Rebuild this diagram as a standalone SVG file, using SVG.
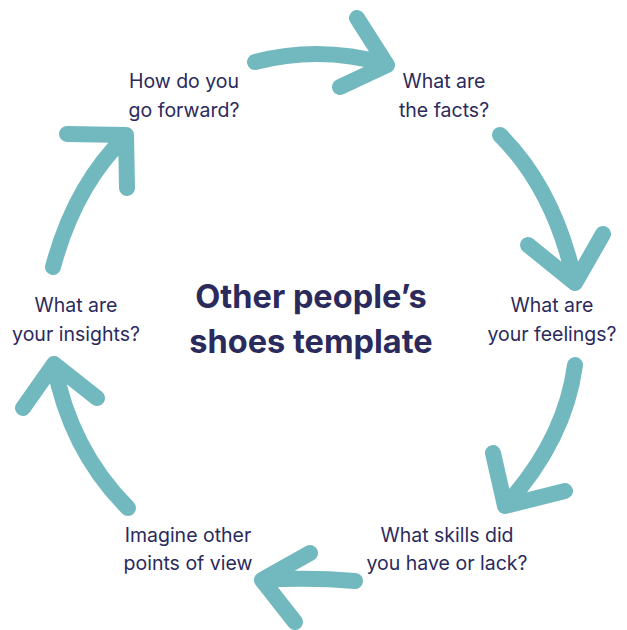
<svg xmlns="http://www.w3.org/2000/svg" width="627" height="630" viewBox="0 0 627 630">
<style>
.arr{fill:none;stroke:#72b9bf;stroke-width:16;stroke-linecap:round;stroke-linejoin:round}
.lbl{font-family:Inter,"Liberation Sans",sans-serif;font-size:19.5px;fill:#2b2a5c;text-anchor:middle}
.ttl{font-family:Inter,"Liberation Sans",sans-serif;font-size:32.5px;font-weight:bold;fill:#2b2a5c;text-anchor:middle}
</style>
<rect width="627" height="630" fill="#ffffff"/>
<g id="connectors">
<path class="arr" d="M255,62 Q320,45 386,64 M357,18 L387,65 L340,87"/>
<path class="arr" d="M500,135 Q555,190 575,283 M528,245 L575,283 L603,234"/>
<path class="arr" d="M575,365 Q565,440 505,506 M493,453 L505,506 L565,491"/>
<path class="arr" d="M355,581 Q310,577 262,580 M310,553 L262,580 L295,622"/>
<path class="arr" d="M128,508 Q70,450 54,364 M23,408 L54,364 L97,398"/>
<path class="arr" d="M53,267 Q75,185 126,136 M67,134 L126,135 L127,188"/>
</g>
<g id="n-forward"><text class="lbl" x="184" y="88">How do you</text><text class="lbl" x="184" y="117">go forward?</text></g>
<g id="n-facts"><text class="lbl" x="444" y="88">What are</text><text class="lbl" x="444" y="117">the facts?</text></g>
<g id="n-feelings"><text class="lbl" x="552" y="312">What are</text><text class="lbl" x="552" y="341">your feelings?</text></g>
<g id="n-skills"><text class="lbl" x="447" y="542">What skills did</text><text class="lbl" x="447" y="570">you have or lack?</text></g>
<g id="n-imagine"><text class="lbl" x="188" y="542">Imagine other</text><text class="lbl" x="188" y="570">points of view</text></g>
<g id="n-insights"><text class="lbl" x="76" y="312">What are</text><text class="lbl" x="76" y="341">your insights?</text></g>
<g id="title"><text class="ttl" x="311" y="308">Other people’s</text><text class="ttl" x="311" y="353">shoes template</text></g>
</svg>
